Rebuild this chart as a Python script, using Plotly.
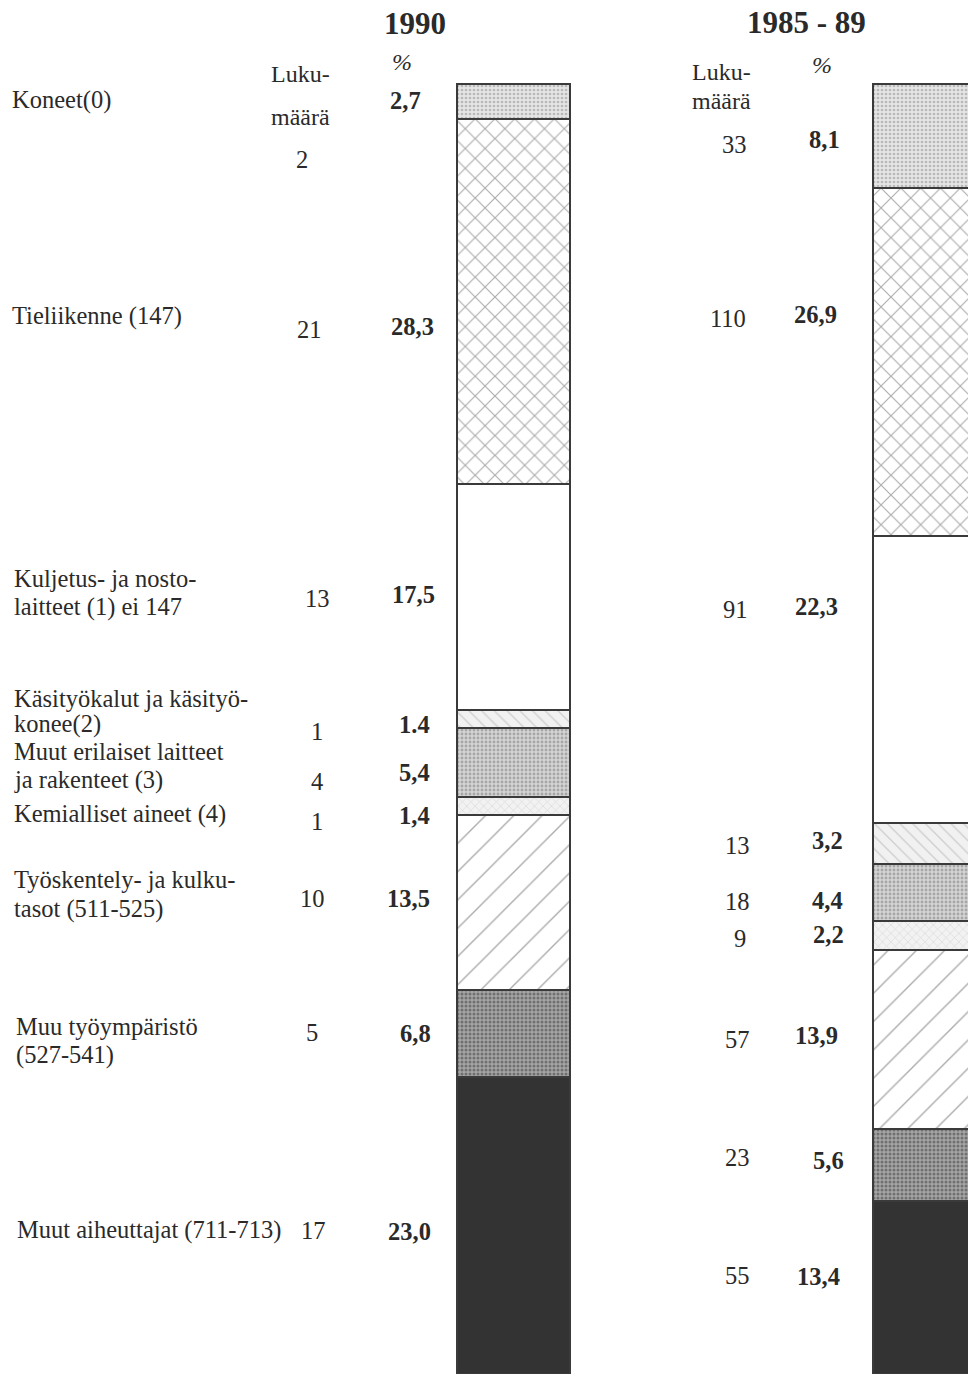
import plotly.graph_objects as go

# ---------------- data ----------------
categories = [
    "Koneet(0)",
    "Tieliikenne (147)",
    "Kuljetus- ja nosto-<br>laitteet (1) ei 147",
    "Käsityökalut ja käsityö-<br>konee(2)",
    "Muut erilaiset laitteet<br>ja rakenteet (3)",
    "Kemialliset aineet (4)",
    "Työskentely- ja kulku-<br>tasot (511-525)",
    "Muu työympäristö<br>(527-541)",
    "Muut aiheuttajat (711-713)",
]
counts_1990 = [2, 21, 13, 1, 4, 1, 10, 5, 17]
pct_1990 = [2.7, 28.3, 17.5, 1.4, 5.4, 1.4, 13.5, 6.8, 23.0]
pct_labels_1990 = ["2,7", "28,3", "17,5", "1.4", "5,4", "1,4", "13,5", "6,8", "23,0"]
counts_8589 = [33, 110, 91, 13, 18, 9, 57, 23, 55]
pct_8589 = [8.1, 26.9, 22.3, 3.2, 4.4, 2.2, 13.9, 5.6, 13.4]
pct_labels_8589 = ["8,1", "26,9", "22,3", "3,2", "4,4", "2,2", "13,9", "5,6", "13,4"]
periods = ["1990", "1985 - 89"]

# ---------------- layout / styling (screen pixel positions) ----------------
W, H = 968, 1374
TOP_PX, BOT_PX = 84, 1374    # bar top / bottom on screen
bar_x = [513.5, 929.5]
bar_w = 113

patterns = [
    dict(shape=".", fgcolor="#8a8a8a", bgcolor="#e4e4e4", size=4, solidity=0.35),
    dict(shape="x", fgcolor="#5a5a5a", bgcolor="white", size=14, solidity=0.16),
    dict(shape="", fgcolor="white", bgcolor="white"),
    dict(shape="\\", fgcolor="#aaaaaa", bgcolor="#f1f1f1", size=9, solidity=0.15),
    dict(shape=".", fgcolor="#777777", bgcolor="#d4d4d4", size=4, solidity=0.4),
    dict(shape="x", fgcolor="#bdbdbd", bgcolor="#f2f2f2", size=6, solidity=0.2),
    dict(shape="/", fgcolor="#5a5a5a", bgcolor="white", size=20, solidity=0.07),
    dict(shape=".", fgcolor="#3a3a3a", bgcolor="#a4a4a4", size=4, solidity=0.45),
    dict(shape="", fgcolor="#333333", bgcolor="#333333"),
]
fills = ["#e4e4e4", "white", "white", "#f1f1f1", "#d4d4d4", "#f2f2f2", "white", "#a4a4a4", "#333333"]

label_x = [10, 10, 12, 12, 12, 12, 12, 14, 15]
label_line_y = [[100], [316], [578, 607], [698, 724], [751, 780], [814],
                [879, 909], [1026, 1055], [1230]]
count_pos_1990 = [(302, 159), (309, 329), (317, 598), (317, 731), (317, 781),
                  (317, 822), (312, 898), (312, 1032), (313, 1230)]
pct_pos_1990 = [(405, 100), (412, 326), (413, 594), (414, 724), (414, 772),
                (414, 815), (408, 898), (415, 1033), (409, 1231)]
count_pos_8589 = [(734, 144), (728, 318), (735, 609), (737, 845), (737, 901),
                  (740, 938), (737, 1039), (737, 1157), (737, 1275)]
pct_pos_8589 = [(824, 140), (815, 314), (816, 606), (827, 840), (827, 900),
                (828, 934), (816, 1035), (828, 1160), (818, 1276)]

FONT = "Liberation Serif, Times New Roman, serif"
TXT = "#2a2a2a"

fig = go.Figure()
for i, cat in enumerate(categories):
    fig.add_trace(go.Bar(
        x=bar_x,
        y=[pct_1990[i], pct_8589[i]],
        width=bar_w,
        name=cat.replace("<br>", " "),
        marker=dict(color=fills[i], pattern=patterns[i],
                    line=dict(color="#3a3a3a", width=2)),
        showlegend=False,
        hoverinfo="skip",
    ))

ann = []


def yp(py):
    return 1 - py / H


def add(x, py, text, size=24.5, anchor="center", bold=False, italic=False):
    t = text
    if bold:
        t = "<b>" + t + "</b>"
    if italic:
        t = "<i>" + t + "</i>"
    ann.append(dict(x=x, y=yp(py), xref="x", yref="paper", text=t, showarrow=False,
                    xanchor=anchor, yanchor="middle", align="left",
                    font=dict(family=FONT, size=size, color=TXT)))


for i, cat in enumerate(categories):
    for line, ly in zip(cat.split("<br>"), label_line_y[i]):
        add(label_x[i], ly, line, anchor="left")
    add(count_pos_1990[i][0], count_pos_1990[i][1], str(counts_1990[i]))
    add(pct_pos_1990[i][0], pct_pos_1990[i][1], pct_labels_1990[i], bold=True)
    add(count_pos_8589[i][0], count_pos_8589[i][1], str(counts_8589[i]))
    add(pct_pos_8589[i][0], pct_pos_8589[i][1], pct_labels_8589[i], bold=True)

# headers
add(415, 23, periods[0], size=31, bold=True)
add(806, 22, periods[1], size=31, bold=True)
add(402, 62, "%", size=24, italic=True)
add(822, 65, "%", size=24, italic=True)
add(300, 74, "Luku-", size=24)
add(300, 117, "määrä", size=24)
add(721, 72, "Luku-", size=24)
add(721, 101, "määrä", size=24)

val_per_px = 100 / (BOT_PX - TOP_PX)
fig.update_layout(
    width=W, height=H,
    margin=dict(l=0, r=0, t=0, b=0),
    barmode="stack",
    paper_bgcolor="white", plot_bgcolor="white",
    xaxis=dict(range=[0, W], visible=False, fixedrange=True),
    yaxis=dict(range=[100, -TOP_PX * val_per_px], visible=False, fixedrange=True),
    annotations=ann,
)

fig.write_html(
    "out.html",
    config={"displayModeBar": False},
    post_script="document.body.style.margin='0';document.body.style.overflow='hidden';",
)
